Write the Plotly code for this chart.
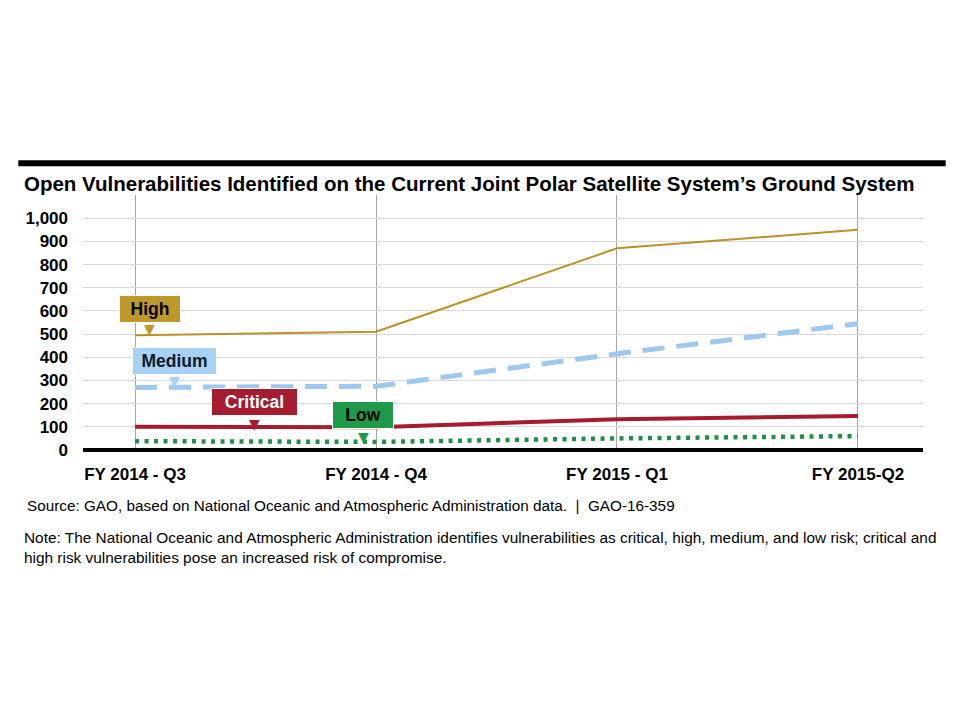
import plotly.graph_objs as go

quarters = ['FY 2014 - Q3', 'FY 2014 - Q4', 'FY 2015 - Q1', 'FY 2015-Q2']
high = [495, 510, 870, 950]
medium = [270, 275, 415, 545]
critical = [100, 98, 133, 147]
low = [38, 35, 50, 60]

y_ticks = [0, 100, 200, 300, 400, 500, 600, 700, 800, 900, 1000]
y_labels = ['0', '100', '200', '300', '400', '500', '600', '700', '800', '900', '1,000']

title = 'Open Vulnerabilities Identified on the Current Joint Polar Satellite System\u2019s Ground System'
source = 'Source: GAO, based on National Oceanic and Atmospheric Administration data.  |  GAO-16-359'
note = ('Note: The National Oceanic and Atmospheric Administration identifies vulnerabilities as critical, high, medium, and low risk; critical and<br>'
        'high risk vulnerabilities pose an increased risk of compromise.')

font = 'Liberation Sans, Arial, sans-serif'
narrow = 'Liberation Sans Narrow, Arial Narrow, Liberation Sans, Arial, sans-serif'

data = [
    go.Scatter(x=quarters, y=low, mode='lines', name='Low',
               line=dict(color='#1f8f47', width=4.5, dash='4px,5.5px')),
    go.Scatter(x=quarters, y=critical, mode='lines', name='Critical',
               line=dict(color='#a51c30', width=4)),
    go.Scatter(x=quarters, y=medium, mode='lines', name='Medium',
               line=dict(color='#9fc8ef', width=5, dash='22px,12px')),
    go.Scatter(x=quarters, y=high, mode='lines', name='High',
               line=dict(color='#b8922a', width=2)),
]

# label boxes: (text, x, y, width, fill, text colour, pointer y)
labels = [
    ('High', 0.062, 610, 54, '#bf982b', 'black', 524),
    ('Medium', 0.164, 383, 77, '#a9d1f5', '#0d1b2a', 296),
    ('Critical', 0.496, 206, 79, '#a51c30', 'white', 114),
    ('Low', 0.946, 149, 54, '#1f9a4b', 'black', 58),
]

annotations = []
for txt, lx, ly, w, fill, fc, py in labels:
    annotations.append(dict(x=lx, y=ly, xref='x', yref='y', text='<b>%s</b>' % txt,
                            showarrow=False, bgcolor=fill, bordercolor='white',
                            borderwidth=1, borderpad=3, width=w, height=20,
                            font=dict(family=font, size=17.5, color=fc)))
    annotations.append(dict(x=lx, y=py, xref='x', yref='y', text='\u25bc',
                            showarrow=False, font=dict(family='DejaVu Sans', size=14, color=fill)))

annotations += [
    dict(x=-0.0726, y=1.047, xref='paper', yref='paper', xanchor='left', yanchor='middle',
         text='<b>%s</b>' % title, showarrow=False,
         font=dict(family=font, size=20.5, color='black')),
    dict(x=-0.069, y=-0.216, xref='paper', yref='paper', xanchor='left', yanchor='middle',
         text=source, showarrow=False, font=dict(family=narrow, size=15.3, color='black')),
    dict(x=-0.0726, y=-0.384, xref='paper', yref='paper', xanchor='left', yanchor='middle',
         text=note, showarrow=False, align='left',
         font=dict(family=narrow, size=15.4, color='black')),
]

layout = go.Layout(
    width=960, height=720,
    paper_bgcolor='white', plot_bgcolor='white',
    margin=dict(l=75, r=45, t=187, b=278),
    showlegend=False,
    xaxis=dict(type='category', range=[-0.216, 3.27], showgrid=True, gridcolor='#a6a6a6',
               gridwidth=1, showline=False, zeroline=False, ticks='', ticklabelstandoff=12,
               tickfont=dict(family=narrow, size=17, color='black'),
               tickvals=quarters, ticktext=['<b>%s</b>' % q for q in quarters]),
    yaxis=dict(range=[0, 1100], tickvals=y_ticks, ticktext=['<b>%s</b>' % t for t in y_labels],
               showgrid=True, gridcolor='#d9d9d9', gridwidth=1, zeroline=True,
               zerolinecolor='black', zerolinewidth=4, showline=False, ticks='',
               ticklabelstandoff=14, tickfont=dict(family=font, size=17, color='black')),
    annotations=annotations,
    shapes=[dict(type='line', xref='paper', yref='paper', x0=-0.077, x1=1.027,
                 y0=1.125, y1=1.125, line=dict(color='black', width=6))],
)

fig = go.Figure(data=data, layout=layout)
fig.write_html('out.html')
